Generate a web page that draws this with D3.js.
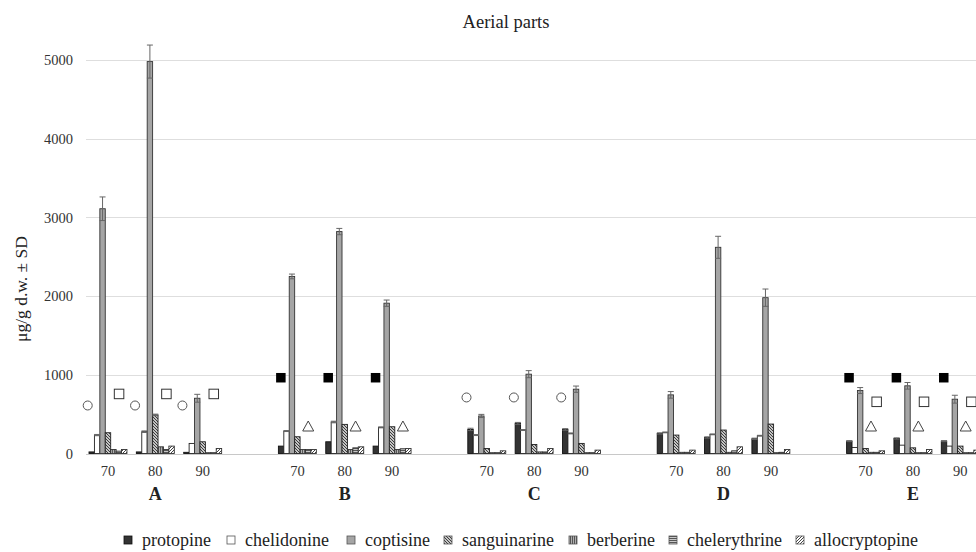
<!DOCTYPE html>
<html>
<head>
<meta charset="utf-8">
<script src="https://cdn.jsdelivr.net/npm/d3@7"></script>
<style>
  html, body { margin: 0; padding: 0; background: #fff; }
  svg text { font-family: "Liberation Serif", "Times New Roman", Times, Tinos, "DejaVu Serif", serif; }
</style>
</head>
<body>
<svg id="chart" width="976" height="552"></svg>
<script>
// ---------------- DATA ----------------
const groups = ["A", "B", "C", "D", "E"];
const temps = ["70", "80", "90"];
const seriesNames = ["protopine", "chelidonine", "coptisine", "sanguinarine", "berberine", "chelerythrine", "allocryptopine"];
const yTicks = [0, 1000, 2000, 3000, 4000, 5000];

// values ordered A70,A80,A90, B70..B90, C.., D.., E..
const protopine      = [20, 20, 15,   94, 149, 94,   306, 383, 306,   255, 204, 187,   157, 191, 157];
const chelidonine    = [234, 277, 128, 285, 400, 332, 234, 298, 255,  268, 243, 226,   77, 106, 94];
const coptisine      = [3110, 4980, 702, 2250, 2820, 1910, 477, 1008, 817, 745, 2620, 1980, 800, 860, 690];
const sanguinarine   = [264, 490, 149, 213, 370, 340,  64, 115, 128,  234, 298, 374,   64, 72, 94];
const berberine      = [51, 85, 10,   51, 51, 51,    10, 20, 10,     15, 15, 10,      15, 10, 10];
const chelerythrine  = [30, 51, 10,   51, 72, 60,    10, 20, 10,     15, 34, 15,      15, 10, 10];
const allocryptopine = [51, 94, 64,   51, 85, 64,    34, 64, 43,     43, 85, 51,      34, 51, 43];

// standard deviations
const protopineSD      = [0, 0, 0,   0, 0, 0,   15, 12, 10,   8, 8, 8,   6, 8, 6];
const chelidonineSD    = [8, 10, 0,  6, 10, 6,  6, 6, 6,      5, 5, 5,   0, 0, 0];
const coptisineSD      = [150, 210, 50, 30, 40, 40, 20, 45, 40, 42, 140, 110, 38, 42, 50];
const sanguinarineSD   = [0, 10, 0,  0, 0, 0,   0, 0, 0,      0, 0, 0,   0, 0, 0];
const berberineSD      = [0, 0, 0, 0, 0, 0, 0, 0, 0, 0, 0, 0, 0, 0, 0];
const chelerythrineSD  = [0, 0, 0, 0, 0, 0, 0, 0, 0, 0, 0, 0, 0, 0, 0];
const allocryptopineSD = [0, 0, 0, 0, 0, 0, 0, 0, 0, 0, 0, 0, 0, 0, 0];

// significance markers: group, temperature, series column, symbol, value height
const markerGroups  = ["A","A","A","A","A","A", "B","B","B","B","B","B", "C","C","C", "E","E","E","E","E","E","E","E","E"];
const markerTemps   = ["70","80","90","70","80","90", "70","80","90","70","80","90", "70","80","90", "70","80","90","70","80","90","70","80","90"];
const markerSeries  = ["protopine","protopine","protopine","chelerythrine","chelerythrine","chelerythrine",
                       "protopine","protopine","protopine","chelerythrine","chelerythrine","chelerythrine",
                       "protopine","protopine","protopine",
                       "protopine","protopine","protopine","chelerythrine","chelerythrine","chelerythrine","berberine","berberine","berberine"];
const markerSymbols = ["circle","circle","circle","square","square","square",
                       "filled","filled","filled","triangle","triangle","triangle",
                       "circle","circle","circle",
                       "filled","filled","filled","square","square","square","triangle","triangle","triangle"];
const markerValues  = [610,610,610,760,760,760, 966,966,966,343,343,343, 712,712,712, 966,966,966,660,660,660,343,343,343];

// ---------------- BUILD ----------------
const FONT = '"Liberation Serif", "Times New Roman", Times, Tinos, "DejaVu Serif", serif';
const valueArrays = [protopine, chelidonine, coptisine, sanguinarine, berberine, chelerythrine, allocryptopine];
const sdArrays = [protopineSD, chelidonineSD, coptisineSD, sanguinarineSD, berberineSD, chelerythrineSD, allocryptopineSD];

const svg = d3.select("#chart").attr("font-family", FONT);
const W = 976, H = 552;
const margin = { top: 60, left: 84.3 };
const plotBottom = 453.5;
const slotW = 47.35;

// slot keys: each group has its three temps plus one empty spacer slot
const slotKeys = [];
groups.forEach((g, gi) => {
  temps.forEach(t => slotKeys.push(g + "-" + t));
  if (gi < groups.length - 1) slotKeys.push(g + "-gap");
});

const x = d3.scaleBand().domain(slotKeys).range([margin.left, margin.left + slotKeys.length * slotW]).padding(0);
const xs = d3.scaleBand().domain(seriesNames).range([4.7, slotW - 4.7]).padding(0);
const y = d3.scaleLinear().domain([0, 5000]).range([plotBottom, plotBottom - 393.5]);

// patterns
const defs = svg.append("defs");
function pat(id, size, draw) {
  const p = defs.append("pattern").attr("id", id).attr("patternUnits", "userSpaceOnUse")
    .attr("width", size).attr("height", size);
  p.append("rect").attr("width", size).attr("height", size).attr("fill", "#fff");
  draw(p);
}
pat("p-sang", 3, p => {
  p.append("path").attr("d", "M0,0 L3,3 M-1,2 L1,4 M2,-1 L4,1").attr("stroke", "#333").attr("stroke-width", 1.1);
});
pat("p-berb", 2, p => {
  p.append("rect").attr("width", 2).attr("height", 2).attr("fill", "#b0b0b0");
  p.append("rect").attr("x", 0).attr("width", 1).attr("height", 2).attr("fill", "#555");
});
pat("p-chel", 2, p => {
  p.append("rect").attr("width", 2).attr("height", 2).attr("fill", "#c8c8c8");
  p.append("rect").attr("y", 0).attr("width", 2).attr("height", 1).attr("fill", "#555");
});
pat("p-allo", 3, p => {
  p.append("path").attr("d", "M0,3 L3,0 M-1,1 L1,-1 M2,4 L4,2").attr("stroke", "#444").attr("stroke-width", 1);
});

const fills = {
  protopine: "#333333",
  chelidonine: "#ffffff",
  coptisine: "#a5a5a5",
  sanguinarine: "url(#p-sang)",
  berberine: "url(#p-berb)",
  chelerythrine: "url(#p-chel)",
  allocryptopine: "url(#p-allo)"
};
const strokes = {
  protopine: "#111",
  chelidonine: "#222",
  coptisine: "#333",
  sanguinarine: "#222",
  berberine: "#333",
  chelerythrine: "#333",
  allocryptopine: "#333"
};

// title
svg.append("text").attr("x", 506).attr("y", 28).attr("text-anchor", "middle")
  .attr("font-family", FONT).attr("font-size", 18.5).attr("fill", "#222").text("Aerial parts");

// y label
svg.append("text").attr("transform", "translate(27,289) rotate(-90)").attr("text-anchor", "middle")
  .attr("font-family", FONT).attr("font-size", 17.5).attr("fill", "#222").text("μg/g d.w. ± SD");

// gridlines
svg.append("g").selectAll("line").data(yTicks).join("line")
  .attr("x1", 86).attr("x2", W)
  .attr("y1", d => Math.round(y(d)) + 0.5).attr("y2", d => Math.round(y(d)) + 0.5)
  .attr("stroke", d => d === 0 ? "#c8c8c8" : "#dedede").attr("stroke-width", 1);

// y axis tick labels via d3 axis
const yAxis = svg.append("g").attr("transform", "translate(80,0)")
  .call(d3.axisLeft(y).tickValues(yTicks).tickSize(0).tickPadding(7).tickFormat(d3.format("d")));
yAxis.attr("font-family", FONT);
yAxis.select(".domain").remove();
yAxis.selectAll("text").attr("font-family", FONT).attr("font-size", 14.5).attr("fill", "#333");

// bars
const barData = [];
groups.forEach((g, gi) => temps.forEach((t, ti) => {
  const idx = gi * temps.length + ti;
  seriesNames.forEach((s, si) => {
    barData.push({ key: g + "-" + t, s, v: valueArrays[si][idx], sd: sdArrays[si][idx] });
  });
}));

const barsG = svg.append("g");
barsG.selectAll("rect").data(barData).join("rect")
  .attr("x", d => x(d.key) + xs(d.s))
  .attr("y", d => y(d.v))
  .attr("width", xs.bandwidth())
  .attr("height", d => y(0) - y(d.v))
  .attr("fill", d => fills[d.s])
  .attr("stroke", d => strokes[d.s])
  .attr("stroke-width", 0.9);

// error bars
const errG = svg.append("g").attr("stroke", "#666").attr("stroke-width", 1);
barData.filter(d => d.sd > 0).forEach(d => {
  const cx = x(d.key) + xs(d.s) + xs.bandwidth() / 2;
  errG.append("line").attr("x1", cx).attr("x2", cx).attr("y1", y(d.v + d.sd)).attr("y2", y(d.v - d.sd));
  errG.append("line").attr("x1", cx - 3).attr("x2", cx + 3).attr("y1", y(d.v + d.sd)).attr("y2", y(d.v + d.sd));
  errG.append("line").attr("x1", cx - 3).attr("x2", cx + 3).attr("y1", y(d.v - d.sd)).attr("y2", y(d.v - d.sd));
});

// markers
const mG = svg.append("g");
markerGroups.forEach((g, i) => {
  const cx = x(g + "-" + markerTemps[i]) + xs(markerSeries[i]) + xs.bandwidth() / 2;
  const cy = y(markerValues[i]);
  const sym = markerSymbols[i];
  if (sym === "circle") {
    mG.append("circle").attr("cx", cx - 4).attr("cy", cy).attr("r", 4.5)
      .attr("fill", "#fff").attr("stroke", "#555").attr("stroke-width", 1);
  } else if (sym === "square") {
    mG.append("rect").attr("x", cx - 4.5).attr("y", cy - 4.5).attr("width", 9.5).attr("height", 9.5)
      .attr("fill", "#fff").attr("stroke", "#333").attr("stroke-width", 1);
  } else if (sym === "filled") {
    mG.append("rect").attr("x", cx - 5).attr("y", cy - 4.5).attr("width", 9.5).attr("height", 9.5)
      .attr("fill", "#000");
  } else if (sym === "triangle") {
    mG.append("path").attr("d", `M${cx},${cy - 5.5} L${cx + 5.5},${cy + 4.5} L${cx - 5.5},${cy + 4.5} Z`)
      .attr("fill", "#fff").attr("stroke", "#444").attr("stroke-width", 1);
  }
});

// category labels
const catG = svg.append("g").attr("font-family", FONT);
groups.forEach(g => temps.forEach(t => {
  catG.append("text").attr("x", x(g + "-" + t) + slotW / 2).attr("y", 476)
    .attr("text-anchor", "middle").attr("font-family", FONT).attr("font-size", 14.5).attr("fill", "#333").text(t);
}));
groups.forEach(g => {
  catG.append("text").attr("x", x(g + "-80") + slotW / 2).attr("y", 500)
    .attr("text-anchor", "middle").attr("font-family", FONT).attr("font-size", 18).attr("font-weight", "bold").attr("fill", "#222").text(g);
});

// legend
const legendX = [124, 227, 347, 444, 569, 669, 796];
const lg = svg.append("g");
seriesNames.forEach((s, i) => {
  const gx = legendX[i];
  lg.append("rect").attr("x", gx).attr("y", 536).attr("width", 8).attr("height", 8)
    .attr("fill", fills[s]).attr("stroke", s === "protopine" ? "#111" : "#555").attr("stroke-width", 0.8);
  lg.append("text").attr("x", gx + 18).attr("y", 546).attr("font-family", FONT).attr("font-size", 18).attr("fill", "#222").text(s);
});
</script>
</body>
</html>
